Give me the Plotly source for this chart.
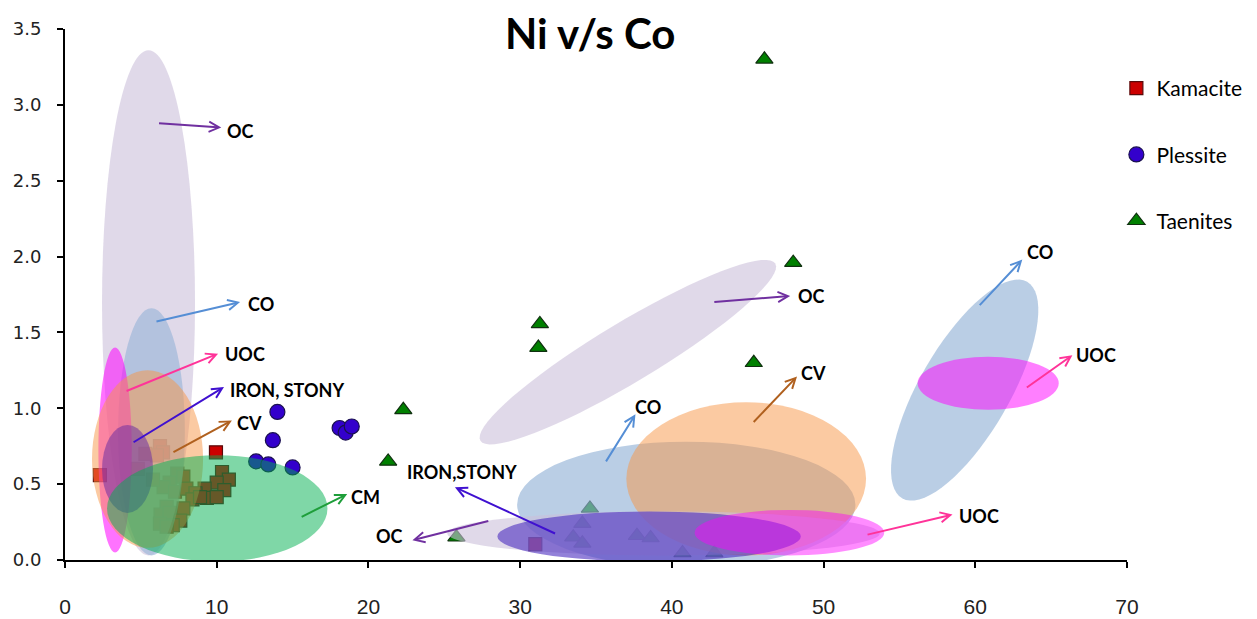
import math
import plotly.graph_objects as go

# ---------------- data ----------------
kam_x = [2.3, 9.95, 31.0, 6.26, 6.46, 6.06, 10.35, 10.8, 10.0, 10.5, 9.2, 9.35, 10.0, 7.4, 7.8,
         6.9, 6.5, 7.25, 8.0, 8.6, 8.4, 7.8, 6.7, 6.3, 6.9, 7.6, 7.1, 6.26, 6.7, 8.9, 5.8, 5.3, 4.8]
kam_y = [0.56, 0.71, 0.105, 0.75, 0.71, 0.69, 0.58, 0.53, 0.51, 0.46, 0.47, 0.41, 0.415, 0.57, 0.55,
         0.51, 0.48, 0.45, 0.47, 0.44, 0.40, 0.34, 0.35, 0.30, 0.31, 0.26, 0.23, 0.24, 0.22, 0.415, 0.53, 0.70, 0.60]

ple_x = [14.0, 13.7, 18.1, 18.5, 18.9, 12.6, 13.4, 15.0]
ple_y = [0.976, 0.79, 0.87, 0.84, 0.88, 0.65, 0.63, 0.61]

tae_x = [46.1, 48.0, 31.3, 31.2, 45.4, 22.3, 21.3, 25.8, 34.6, 34.1, 33.5, 34.1, 37.7, 38.6, 40.7, 42.8]
tae_y = [3.30, 1.96, 1.556, 1.40, 1.30, 0.99, 0.65, 0.15, 0.34, 0.24, 0.15, 0.11, 0.16, 0.145, 0.046, 0.046]

x_ticks = [0, 10, 20, 30, 40, 50, 60, 70]
y_ticks = [0, 0.5, 1.0, 1.5, 2.0, 2.5, 3.0, 3.5]

# axis-aligned region ellipses: (x0, x1, y0, y1, color, opacity)
ell_boxes = [
    (2.44, 8.57, 0.03, 3.36, "#CCC0DA", 0.6),    # OC left
    (3.5, 7.9, 0.03, 1.66, "#95B3D7", 0.6),      # CO left
    (2.2, 4.4, 0.05, 1.40, "#FF00FF", 0.55),     # UOC left
    (1.78, 9.1, 0.08, 1.25, "#F79646", 0.5),     # CV left
    (2.44, 5.8, 0.31, 0.89, "#7030A0", 0.55),    # IRON left
    (2.77, 17.3, -0.01, 0.69, "#00B050", 0.5),   # CM
    (29.8, 52.1, -0.05, 0.78, "#95B3D7", 0.65),  # CO mid
    (37.0, 52.8, 0.03, 1.04, "#F79646", 0.5),    # CV mid
    (25.2, 53.7, 0.03, 0.32, "#CCC0DA", 0.6),    # OC mid low
    (28.5, 48.5, -0.01, 0.32, "#4B2DC0", 0.6),   # IRON mid
    (41.5, 54.0, 0.03, 0.33, "#FF00FF", 0.45),   # UOC mid
    (56.2, 65.5, 0.99, 1.34, "#FF00FF", 0.5),    # UOC right
]
# tilted ellipses: (cx, cy, semi-major px, semi-minor px, angle deg, color, opacity)
ell_tilt = [
    (37.1, 1.37, 172, 30, 31, "#CCC0DA", 0.6),   # OC mid tilted
    (59.3, 1.12, 125, 45, 60, "#95B3D7", 0.65),  # CO right
]

# arrows: (tail_x, tail_y, head_x, head_y, label, label_x, label_y, anchor, color)
arrows = [
    (6.1, 2.88, 10.3, 2.85, "OC", 10.55, 2.83, "left", "#7030A0"),
    (5.93, 1.57, 11.54, 1.70, "CO", 11.93, 1.69, "left", "#558ED5"),
    (3.96, 1.11, 10.09, 1.36, "UOC", 10.42, 1.36, "left", "#FF3399"),
    (4.42, 0.77, 10.48, 1.14, "IRON, STONY", 10.75, 1.12, "left", "#3F10D0"),
    (7.05, 0.705, 11.0, 0.92, "CV", 11.2, 0.90, "left", "#B0601E"),
    (15.5, 0.28, 18.6, 0.435, "CM", 18.7, 0.415, "left", "#1E9E3A"),
    (28.0, 0.26, 22.9, 0.13, "OC", 22.4, 0.16, "right", "#7030A0"),
    (32.4, 0.17, 25.7, 0.48, "IRON,STONY", 26.2, 0.58, "center", "#3F10D0"),
    (35.6, 0.64, 37.6, 0.96, "CO", 38.4, 1.01, "center", "#558ED5"),
    (42.7, 1.70, 47.8, 1.74, "OC", 48.2, 1.74, "left", "#7030A0"),
    (45.3, 0.90, 48.25, 1.21, "CV", 48.4, 1.23, "left", "#B0601E"),
    (52.8, 0.165, 58.5, 0.30, "UOC", 58.8, 0.29, "left", "#FF3399"),
    (60.2, 1.67, 63.1, 1.98, "CO", 63.3, 2.03, "left", "#558ED5"),
    (63.3, 1.13, 66.4, 1.35, "UOC", 66.5, 1.35, "left", "#FF3399"),
]

# ---------------- layout constants ----------------
# the page body has an 8px default margin, so the figure is offset by 8px
W, H = 1249, 611
ML, MR, MT, MB = 57, 130, 21, 59
XR = (0, 70)
YR = (0, 3.5)
PW, PH = W - ML - MR, H - MT - MB
px_per_x = PW / (XR[1] - XR[0])
px_per_y = PH / (YR[1] - YR[0])

fig = go.Figure()

fig.add_trace(go.Scatter(x=kam_x, y=kam_y, mode="markers", name="Kamacite", legendgroup="k",
                         marker=dict(symbol="square", size=13, color="#CC0000",
                                     line=dict(color="#5A0A0A", width=1.2))))
fig.add_trace(go.Scatter(x=ple_x, y=ple_y, mode="markers", name="Plessite", legendgroup="p",
                         marker=dict(symbol="circle", size=15, color="#3300CC",
                                     line=dict(color="#1A1050", width=1.2))))
fig.add_trace(go.Scatter(x=tae_x, y=tae_y, mode="markers", name="Taenites", legendgroup="t",
                         marker=dict(symbol="triangle-up", size=15, color="#008000",
                                     line=dict(color="#103010", width=1.2))))

shapes = []
for x0, x1, y0, y1, c, op in ell_boxes:
    shapes.append(dict(type="circle", xref="x", yref="y", x0=x0, x1=x1, y0=y0, y1=y1,
                       fillcolor=c, opacity=op, line=dict(width=0), layer="above"))


def tilted_path(cx, cy, a, b, ang):
    t = math.radians(ang)
    pts = []
    for i in range(73):
        u = 2 * math.pi * i / 72
        dx = a * math.cos(u) * math.cos(t) - b * math.sin(u) * math.sin(t)
        dy = a * math.cos(u) * math.sin(t) + b * math.sin(u) * math.cos(t)
        pts.append((cx + dx / px_per_x, cy + dy / px_per_y))
    return "M " + " L ".join(f"{x:.4f},{y:.4f}" for x, y in pts) + " Z"


for cx, cy, a, b, ang, c, op in ell_tilt:
    shapes.insert(0, dict(type="path", xref="x", yref="y", path=tilted_path(cx, cy, a, b, ang),
                          fillcolor=c, opacity=op, line=dict(width=0), layer="above"))

annotations = []
for tx, ty, hx, hy, lab, lx, ly, anc, c in arrows:
    annotations.append(dict(x=hx, y=hy, ax=tx, ay=ty, xref="x", yref="y", axref="x", ayref="y",
                            text="", showarrow=True, arrowhead=5, arrowsize=1, arrowwidth=2,
                            arrowcolor=c, standoff=0, startstandoff=0))
    annotations.append(dict(x=lx, y=ly, xref="x", yref="y", text=f"<b>{lab}</b>", showarrow=False,
                            xanchor=anc, yanchor="middle",
                            font=dict(family="Lato, Open Sans, sans-serif", size=18, color="#000000")))

# chart title as a paper-anchored text
annotations.append(dict(x=(590 - 8 - ML) / PW, y=1 + (29 - 33) / PH, xref="paper", yref="paper",
                        text="<b>Ni v/s Co</b>", showarrow=False, xanchor="center", yanchor="middle",
                        font=dict(family="Lato, Open Sans, sans-serif", size=42, color="#000000")))

fig.update_layout(
    width=W, height=H,
    margin=dict(l=ML, r=MR, t=MT, b=MB, autoexpand=False),
    paper_bgcolor="white", plot_bgcolor="white",
    shapes=shapes, annotations=annotations,
    showlegend=True,
    legend=dict(x=0.99, xanchor="left", y=1.0 - (68 - 29) / PH,
                yanchor="top", tracegroupgap=36, bgcolor="rgba(0,0,0,0)",
                font=dict(family="Lato, Open Sans, sans-serif", size=21, color="#000000")),
)
fig.update_xaxes(range=list(XR), tickvals=x_ticks, automargin=False,
                 showgrid=False, zeroline=False, showline=True, linecolor="black", linewidth=2,
                 ticks="outside", ticklen=6, tickwidth=2, tickcolor="black",
                 ticklabelstandoff=21,
                 tickfont=dict(family="Liberation Sans Narrow, Liberation Sans, sans-serif", size=21, color="#222"))
fig.update_yaxes(range=list(YR), tickvals=y_ticks, tickformat=".1f", automargin=False,
                 showgrid=False, zeroline=False, showline=True, linecolor="black", linewidth=2,
                 ticks="outside", ticklen=6, tickwidth=2, tickcolor="black",
                 ticklabelstandoff=12,
                 tickfont=dict(family="DejaVu Sans, sans-serif", size=18, color="#222"))

fig.write_html("out.html")
